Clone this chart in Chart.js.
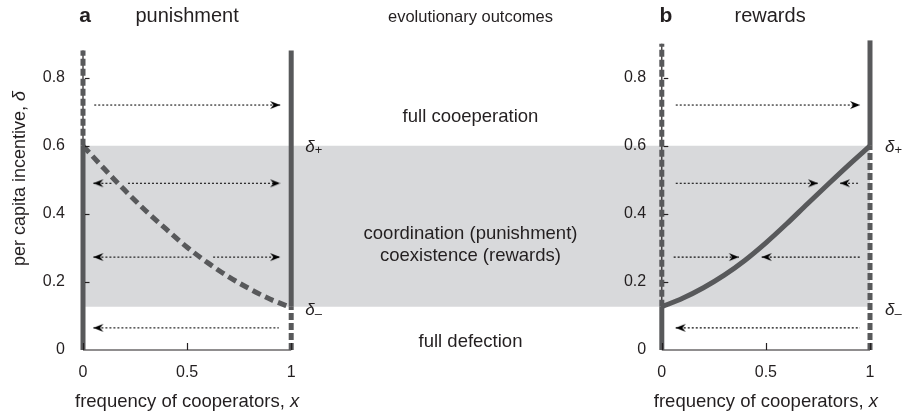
<!DOCTYPE html>
<html><head><meta charset="utf-8">
<style>html,body{margin:0;padding:0;background:#fff;}canvas{display:block;}</style>
<script src="https://cdn.jsdelivr.net/npm/chart.js@4/dist/chart.umd.min.js"></script>
</head><body>
<canvas id="c" width="904" height="419"></canvas>
<script>
// ---------- data ----------
const xTickVals = [0, 0.5, 1];
const xTickLabels = ['0', '0.5', '1'];
const yTickVals = [0, 0.2, 0.4, 0.6, 0.8];
const yTickLabels = ['0', '0.2', '0.4', '0.6', '0.8'];
const curveX = [0, 0.1, 0.2, 0.3, 0.4, 0.5, 0.6, 0.7, 0.8, 0.9, 1];
const punishCurve = [0.6, 0.534, 0.47, 0.41, 0.355, 0.302, 0.256, 0.215, 0.18, 0.149, 0.125];
const rewardCurve = [0.127, 0.152, 0.183, 0.22, 0.264, 0.315, 0.371, 0.43, 0.488, 0.545, 0.6];
const deltaPlus = 0.6;
const deltaMinus = 0.127;
const topA = [0.88, 0.88];   // tops of x=0 and x=1 boundaries, punishment
const topB = [0.9, 0.91];    // tops of x=0 and x=1 boundaries, rewards
// arrows: y level, start x, end x, head at left end, head at right end
const punishArrows = [
  {y: 0.72, x1: 0.054, x2: 0.947, l: 0, r: 1},
  {y: 0.49, x1: 0.05, x2: 0.138, l: 1, r: 0},
  {y: 0.49, x1: 0.216, x2: 0.947, l: 0, r: 1},
  {y: 0.273, x1: 0.05, x2: 0.523, l: 1, r: 0},
  {y: 0.273, x1: 0.625, x2: 0.947, l: 0, r: 1},
  {y: 0.065, x1: 0.05, x2: 0.94, l: 1, r: 0}
];
const rewardArrows = [
  {y: 0.72, x1: 0.067, x2: 0.952, l: 0, r: 1},
  {y: 0.49, x1: 0.067, x2: 0.75, l: 0, r: 1},
  {y: 0.49, x1: 0.856, x2: 0.952, l: 1, r: 0},
  {y: 0.273, x1: 0.057, x2: 0.37, l: 0, r: 1},
  {y: 0.273, x1: 0.48, x2: 0.952, l: 1, r: 0},
  {y: 0.065, x1: 0.067, x2: 0.952, l: 1, r: 0}
];

// ---------- styling ----------
const FONT = '"Liberation Sans", Arial, Helvetica, sans-serif';
const INK = '#231f20';
const LINE = '#58595b';
const BAND = '#d8d9db';
const B = 2.78;      // offset of panel b along the shared x scale
const LBL_OFF = 0.075; // panel b tick-label gap, in x units

function makeHead() {
  const c = document.createElement('canvas');
  c.width = 22; c.height = 12;
  const g = c.getContext('2d');
  g.fillStyle = '#000';
  g.beginPath();
  g.moveTo(11, 6); g.lineTo(1, 2); g.lineTo(4.2, 6); g.lineTo(1, 10);
  g.closePath(); g.fill();
  return c;
}
const HEAD = makeHead();

function seg(pts, style) {
  return Object.assign({data: pts, pointRadius: 0, clip: false, fill: false, tension: 0,
    borderCapStyle: 'butt', borderJoinStyle: 'round'}, style);
}
function vline(x, y0, y1) { return [{x: x, y: y0}, {x: x, y: y1}]; }
function curve(ys, dx) { return curveX.map((x, i) => ({x: x + dx, y: ys[i]})); }

const solid = {borderColor: LINE, borderWidth: 5, order: 5};
const dashed = {borderColor: LINE, borderWidth: 5, borderDash: [7, 3], order: 5};
const axisStyle = {borderColor: INK, borderWidth: 1.2, order: 15};

function arrowSets(list, dx) {
  return list.map(a => seg([{x: a.x1 + dx, y: a.y}, {x: a.x2 + dx, y: a.y}], {
    borderColor: '#111', borderWidth: 1.1, borderDash: [2, 2], order: 10,
    pointStyle: HEAD, pointRadius: [a.l ? 2 : 0, a.r ? 2 : 0], pointRotation: [180, 0]
  }));
}

const datasets = [
  seg([{x: 0, y: deltaPlus}, {x: B + 1, y: deltaPlus}], {borderWidth: 0, backgroundColor: BAND, fill: {value: deltaMinus}, order: 20}),
  seg(vline(0, 0, topA[0]), axisStyle),
  seg([{x: 0, y: 0}, {x: 1, y: 0}], axisStyle),
  seg(vline(B, 0, topB[0]), axisStyle),
  seg([{x: B, y: 0}, {x: B + 1, y: 0}], axisStyle),
  seg(vline(0, 0, deltaPlus), solid),
  seg(vline(0, deltaPlus, topA[0]), dashed),
  seg(vline(1, deltaMinus, topA[1]), solid),
  seg(vline(1, 0, deltaMinus), dashed),
  seg(curve(punishCurve, 0), {borderColor: LINE, borderWidth: 5, borderDash: [9, 5], order: 4, cubicInterpolationMode: 'monotone'}),
  seg(vline(B, 0, deltaMinus), solid),
  seg(vline(B, deltaMinus, topB[0]), dashed),
  seg(vline(B + 1, deltaPlus, topB[1]), solid),
  seg(vline(B + 1, 0, deltaPlus), dashed),
  seg(curve(rewardCurve, B), {borderColor: LINE, borderWidth: 5, order: 4, cubicInterpolationMode: 'monotone'})
].concat(arrowSets(punishArrows, 0), arrowSets(rewardArrows, B));

function drawMixed(ctx, parts, x, y, align) {
  let w = 0;
  parts.forEach(p => { ctx.font = p.font; w += ctx.measureText(p.t).width; });
  let cx = align === 'center' ? x - w / 2 : x;
  parts.forEach(p => {
    ctx.font = p.font; ctx.textAlign = 'left';
    ctx.fillText(p.t, cx, y + (p.dy || 0));
    cx += ctx.measureText(p.t).width;
  });
}

const annot = {
  id: 'annot',
  afterDatasetsDraw(chart) {
    const ctx = chart.ctx, xs = chart.scales.x, ys = chart.scales.y;
    ctx.save();
    ctx.strokeStyle = INK; ctx.lineWidth = 1.2;
    [0, B].forEach(off => {
      const ax = xs.getPixelForValue(off);
      yTickVals.forEach(v => {
        if (v === 0) return;
        const py = Math.round(ys.getPixelForValue(v)) + 0.5;
        ctx.beginPath(); ctx.moveTo(ax + 2, py); ctx.lineTo(ax + 6.5, py); ctx.stroke();
      });
      xTickVals.forEach(v => {
        const px = Math.round(xs.getPixelForValue(v + off)) + 0.5;
        const y0 = ys.getPixelForValue(0);
        ctx.beginPath(); ctx.moveTo(px, y0); ctx.lineTo(px, y0 - 7); ctx.stroke();
      });
    });
    ctx.restore();
  },
  afterDraw(chart) {
    const ctx = chart.ctx, xs = chart.scales.x, ys = chart.scales.y;
    const X = v => xs.getPixelForValue(v), Y = v => ys.getPixelForValue(v);
    const bottom = chart.chartArea.bottom;
    ctx.save();
    ctx.fillStyle = INK;
    ctx.textBaseline = 'alphabetic';
    ctx.textAlign = 'center';
    ctx.font = 'bold 21px ' + FONT;
    ctx.fillText('a', X(0.01), 22);
    ctx.fillText('b', X(B + 0.02), 22);
    ctx.font = '20px ' + FONT;
    ctx.fillText('punishment', X(0.5), 22);
    ctx.fillText('rewards', X(B + 0.52), 22);
    ctx.font = '16.5px ' + FONT;
    const midX = (X(1) + X(B)) / 2 - 6;
    ctx.fillText('evolutionary outcomes', midX, 22);
    ctx.font = '18.5px ' + FONT;
    ctx.fillText('full cooeperation', midX, 122);
    ctx.fillText('coordination (punishment)', midX, 239);
    ctx.fillText('coexistence (rewards)', midX, 261);
    ctx.fillText('full defection', midX, 347);
    [X(1) + 14, X(B + 1) + 15].forEach(lx => {
      drawMixed(ctx, [{t: '\u03b4', font: 'italic 17px ' + FONT}, {t: '+', font: '13px ' + FONT, dy: 2}], lx, Y(deltaPlus) + 6, 'left');
      drawMixed(ctx, [{t: '\u03b4', font: 'italic 17px ' + FONT}, {t: '\u2013', font: '13px ' + FONT, dy: 3}], lx, Y(deltaMinus) + 8, 'left');
    });
    [0.5, B + 0.5].forEach(v => {
      drawMixed(ctx, [{t: 'frequency of cooperators, ', font: '18.5px ' + FONT}, {t: 'x', font: 'italic 18.5px ' + FONT}], X(v), bottom + 57, 'center');
    });
    ctx.translate(25, 178.5);
    ctx.rotate(-Math.PI / 2);
    drawMixed(ctx, [{t: 'per capita incentive, ', font: '18px ' + FONT}, {t: '\u03b4', font: 'italic 18px ' + FONT}], 0, 0, 'center');
    ctx.restore();
  }
};

const tickFont = {family: FONT, size: 16};
new Chart(document.getElementById('c'), {
  type: 'line',
  data: {datasets: datasets},
  plugins: [annot],
  options: {
    responsive: false, animation: false, events: [],
    layout: {padding: {top: 37, right: 34, bottom: 0, left: 0}},
    plugins: {legend: {display: false}, tooltip: {enabled: false}},
    scales: {
      x: {
        type: 'linear', min: 0, max: B + 1,
        afterBuildTicks: s => { s.ticks = xTickVals.map(v => ({value: v})).concat(xTickVals.map(v => ({value: v + B}))); },
        ticks: {callback: (v, i) => xTickLabels[i % xTickLabels.length], padding: 13, font: tickFont, color: INK, autoSkip: false, maxRotation: 0},
        grid: {display: false, drawTicks: false}, border: {display: false},
        afterFit: s => { s.height = 69; }
      },
      y: {
        type: 'linear', min: 0, max: 0.92,
        afterBuildTicks: s => { s.ticks = yTickVals.map(v => ({value: v})); },
        ticks: {callback: (v, i) => yTickLabels[i], padding: 18, font: tickFont, color: INK},
        grid: {display: false, drawTicks: false}, border: {display: false},
        afterFit: s => { s.width = 83; }
      },
      y2: {
        type: 'linear', axis: 'y', position: {x: B - LBL_OFF}, min: 0, max: 0.92,
        afterBuildTicks: s => { s.ticks = yTickVals.map(v => ({value: v})); },
        ticks: {callback: (v, i) => yTickLabels[i], padding: 0, font: tickFont, color: INK, z: 1},
        grid: {display: false, drawTicks: false}, border: {display: false}
      }
    }
  }
});
</script>
</body></html>
